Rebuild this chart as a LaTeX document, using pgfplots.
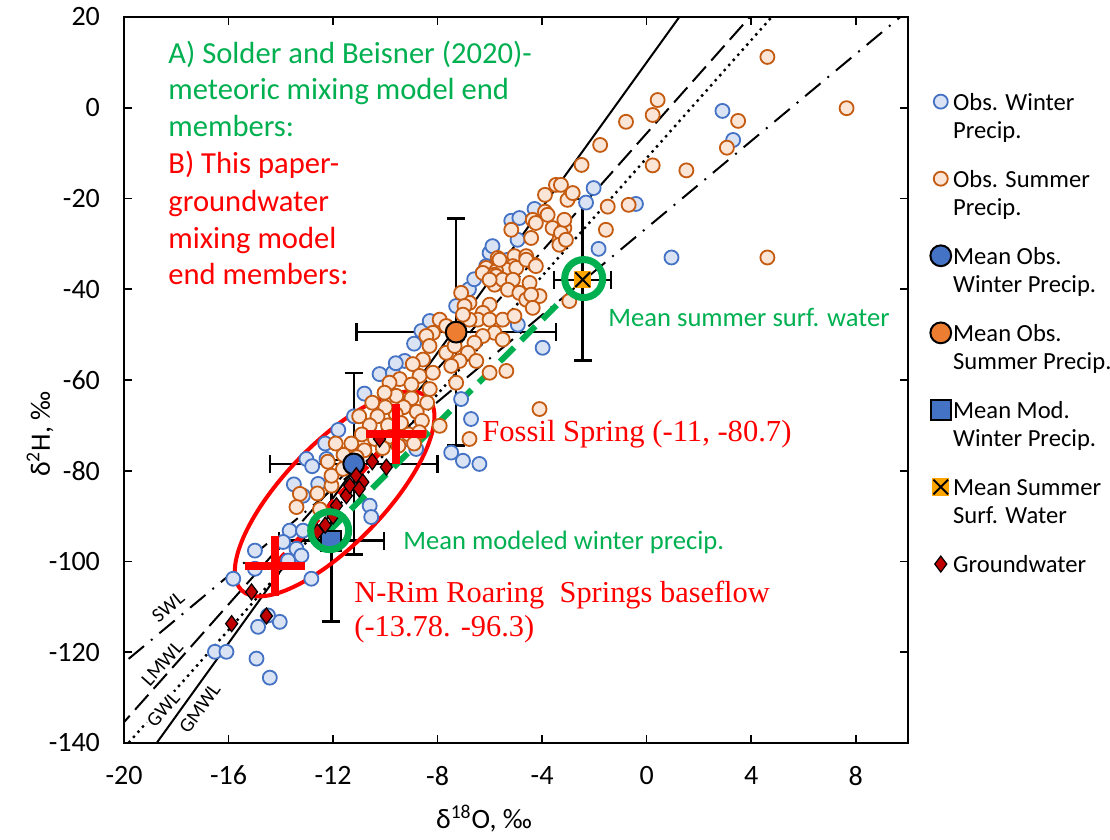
\documentclass[border=0pt]{standalone}
\usepackage{pgfplots}
\pgfplotsset{compat=1.18}
\usepackage{fontspec}
\setmainfont{Carlito}
\newfontfamily\serifred{Liberation Serif}
\definecolor{wedge}{HTML}{4472C4}
\definecolor{wfill}{HTML}{DAE3F3}
\definecolor{sedge}{HTML}{C55A11}
\definecolor{sfill}{HTML}{FBE5D6}
\definecolor{mblue}{HTML}{4472C4}
\definecolor{morange}{HTML}{ED7D31}
\definecolor{swor}{HTML}{FFA500}
\definecolor{gwred}{HTML}{C00000}
\definecolor{mygreen}{HTML}{00B050}
\definecolor{myred}{HTML}{FF0000}
\pgfdeclareplotmark{sqx}{%
  \pgfpathrectangle{\pgfpoint{-\pgfplotmarksize}{-\pgfplotmarksize}}{\pgfpoint{2\pgfplotmarksize}{2\pgfplotmarksize}}%
  \pgfusepathqfill
  \pgfpathmoveto{\pgfpoint{-0.85\pgfplotmarksize}{-0.85\pgfplotmarksize}}%
  \pgfpathlineto{\pgfpoint{0.85\pgfplotmarksize}{0.85\pgfplotmarksize}}%
  \pgfpathmoveto{\pgfpoint{-0.85\pgfplotmarksize}{0.85\pgfplotmarksize}}%
  \pgfpathlineto{\pgfpoint{0.85\pgfplotmarksize}{-0.85\pgfplotmarksize}}%
  \pgfusepathqstroke
}
\pgfplotsset{
  legshift/.style={legend image code/.code={\draw[##1, yshift=7.1pt] plot coordinates {(0pt,0pt)};}},
  legnoshift/.style={legend image code/.code={\draw[##1] plot coordinates {(0pt,0pt)};}},
}
\begin{document}
\begin{tikzpicture}
\useasboundingbox (-62pt,-48.5pt) rectangle (493pt,371.5pt);
\begin{axis}[
  scale only axis, width=392pt, height=363pt,
  xmin=-20, xmax=10, ymin=-140, ymax=20,
  xtick={-20,-16,...,8}, ytick={-140,-120,...,20},
  tick align=inside, major tick length=4pt,
  axis line style={line width=0.8pt},
  tick style={line width=0.8pt, black},
  every tick label/.append style={font=\fontsize{14}{16}\selectfont},
  /pgf/number format/assume math mode=true,
  xticklabel style={yshift=-8pt}, yticklabel style={xshift=-8.5pt},
  clip=true,
  legend style={at={(1.0204,0.9080)}, anchor=north west, draw=none, fill=none,
    font=\fontsize{12.3}{14.2}\selectfont, row sep=10.9pt, column sep=0pt,
    nodes={inner sep=1pt}, cells={align=left}},
  legend cell align=left,
  legshift,
  error bars/error bar style={black, line width=1.2pt},
  error bars/error mark options={rotate=90, black, line width=1.2pt, mark size=4.5pt},
]
% reference lines
\addplot[black, line width=1pt, forget plot] coordinates {(-20,-150) (2,26)};
\addplot[black, line width=1.7pt, dash pattern=on 0pt off 3.4pt, line cap=round, forget plot] coordinates {(-21,-147.6) (6,27.9)};
\addplot[black, line width=1pt, dash pattern=on 10pt off 4pt, forget plot] coordinates {(-21,-141.9) (6,33.3)};
\addplot[black, line width=1pt, dash pattern=on 10pt off 4.5pt on 1pt off 4.5pt, forget plot] coordinates {(-21,-127.1) (11,26.2)};

% Obs winter
\addplot[only marks, mark=*, mark size=3.5pt, mark options={draw=wedge, fill=wfill, line width=0.9pt}] coordinates {
(2.9,-0.7) (3.31,-7.1) (-2.03,-17.7) (-2.32,-20.9) (-0.41,-21.2) (-4.29,-22.3)
(-5.18,-24.9) (-4.87,-24.3) (-1.84,-31.1) (0.95,-33.0) (-6.01,-32.0) (-4.94,-29.1)
(-6.14,-34.9) (-6.27,-36.4) (-5.31,-33.5) (-8.62,-49.2) (-7.29,-43.7) (-4.93,-47.8) (-3.98,-52.9)
(-9.26,-55.8) (-9.71,-59.1) (-7.1,-64.2) (-6.72,-68.6) (-7.48,-76.0) (-10.22,-58.7)
(-9.71,-58.4) (-7.03,-77.8) (-6.4,-78.5) (-8.82,-75.2) (-9.2,-73) (-10.6,-87.7)
(-10.54,-90.2) (-12.57,-82.9) (-12.25,-77.4) (-13.02,-77.4) (-13.15,-85.5) (-13.66,-93.2)
(-13.15,-93.2) (-13.91,-95.7) (-13.4,-97.2) (-13.72,-99.8) (-13.21,-98.7) (-12.83,-103.8)
(-15.82,-103.8) (-14.99,-101.6) (-14.04,-113.3) (-14.49,-111.9) (-16.52,-119.9) (-16.08,-119.9)
(-14.87,-114.4) (-14.93,-121.4) (-14.42,-125.6) (-14.99,-97.6)
(-9.6,-56.3) (-10.8,-63) (-11.2,-68) (-11.8,-71) (-12.3,-74) (-12.8,-79) (-13.5,-83)
(-8.9,-52) (-8.3,-47) (-6.8,-40) (-6.6,-37.8) (-5.9,-30.5)
};
\addlegendentry{\strut Obs. Winter\\\strut Precip.}

% Obs summer
\addplot[only marks, mark=*, mark size=3.5pt, mark options={draw=sedge, fill=sfill, line width=0.9pt}] coordinates {
(4.62,11.2) (7.65,-0.1) (0.42,1.7) (0.23,-1.6) (-0.79,-3.1) (3.5,-2.9) (-1.78,-8.2) (3.07,-8.8)
(-2.49,-12.6) (0.23,-12.7) (1.52,-13.8) (-3.47,-17) (-3.28,-17) (-2.9,-19.2) (-3.89,-19.2)
(-3.03,-20.3) (-1.49,-21.8) (-0.69,-21.4) (-3.89,-22.9) (-3.79,-23.6) (-1.56,-26.9) (-5.18,-26.9)
(-4.36,-24.7) (-3.6,-26.5) (-3.15,-26.5) (-3.34,-29.1) (-3.28,-27.6) (-3.34,-30.2) (-4.42,-28.7)
(4.62,-33.0) (-5.06,-32.7) (-4.61,-32.7) (-5.7,-33.1) (-4.29,-34.6) (-5.12,-34.9) (-5.37,-35.7)
(-6.14,-35.3) (-5.76,-36.0) (-6.27,-36.4) (-5.82,-36.8)
(-2.83,-18.8) (-3.15,-24.7) (-4.24,-25.4) (-3.09,-29.1) (-5.63,-33.5) (-4.99,-35.3) (-4.61,-33.5)
(-4.24,-34.9) (-5.76,-37.1) (-5.82,-39.0) (-5.51,-37.9) (-6.01,-37.9) (-5.12,-37.9) (-5.31,-40.1)
(-4.48,-38.6) (-4.87,-40.8) (-4.61,-42.3) (-4.1,-41.5) (-4.42,-41.2) (-2.96,-42.6) (-4.36,-44.1)
(-6.01,-43.4) (-6.27,-45.2) (-6.46,-46.7) (-6.01,-46.7) (-6.78,-43.0) (-7.1,-40.8) (-6.97,-43.7)
(-6.78,-46.7) (-7.03,-45.6) (-5.51,-46.7) (-5.06,-45.9) (-5.82,-49.6) (-5.51,-51.1) (-6.27,-50.3)
(-6.59,-51.8) (-7.92,-46.7) (-7.67,-48.1) (-8.18,-49.6) (-8.43,-50.3) (-7.67,-54.0) (-7.35,-52.5)
(-6.84,-54.0) (-7.16,-55.8) (-6.52,-55.8) (-8.56,-55.5) (-8.95,-56.5) (-8.31,-52.5) (-8.69,-59.1)
(-8.18,-58.4) (-7.48,-56.9) (-6.01,-58.4) (-7.29,-60.6) (-5.37,-58.0) (-4.1,-66.4) (-6.78,-73.0)
(-7.92,-70.1) (-9.45,-59.8) (-9.84,-60.6) (-9.58,-63.5) (-10.03,-62.8)
(-9.0,-64) (-9.3,-66) (-8.8,-67) (-9.6,-67.5) (-10.0,-66) (-10.3,-68) (-9.9,-70) (-9.4,-69.5)
(-8.6,-69) (-10.6,-70) (-10.9,-72) (-10.4,-73) (-9.8,-72.5) (-9.1,-72) (-8.7,-71.5) (-10.1,-75)
(-10.8,-75.5) (-11.3,-74) (-11.1,-77) (-11.6,-76.5) (-9.5,-74.5) (-8.9,-74) (-10.5,-65) (-11.0,-68)
(-11.9,-74) (-12.2,-78) (-12.06,-83.3) (-12.06,-81.1) (-11.62,-79.6) (-13.27,-85.1) (-12.6,-85)
(-13.4,-88) (-12.5,-88.5) (-8.3,-62) (-9.0,-61) (-8.4,-65)
};
\addlegendentry{\strut Obs. Summer\\\strut Precip.}

% Mean obs winter
\addplot[only marks, mark=*, mark size=5.2pt, mark options={draw=black, fill=mblue, line width=1pt},
  error bars/.cd, x dir=both, x explicit, y dir=both, y explicit]
  coordinates {(-11.21,-78.5) +- (3.2,20)};
\addlegendentry{\strut Mean Obs.\\\strut Winter Precip.}

% Mean obs summer
\addplot[only marks, mark=*, mark size=5.2pt, mark options={draw=black, fill=morange, line width=1pt},
  error bars/.cd, x dir=both, x explicit, y dir=both, y explicit]
  coordinates {(-7.29,-49.45) +- (3.82,25)};
\addlegendentry{\strut Mean Obs.\\\strut Summer Precip.}

% Mean modelled winter
\addplot[only marks, mark=square*, mark size=5pt, mark options={draw=black, fill=mblue, line width=1pt},
  error bars/.cd, x dir=both, x explicit, y dir=both, y explicit]
  coordinates {(-12.06,-95.4) +- (2.0,17.8)};
\addlegendentry{\strut Mean Mod.\\\strut Winter Precip.}

% Mean summer surface water
\addplot[only marks, mark=sqx, mark size=4.3pt, mark options={draw=black, fill=swor, line width=1pt},
  error bars/.cd, x dir=both, x explicit, y dir=both, y explicit]
  coordinates {(-2.45,-37.9) +- (1.09,17.8)};
\addlegendentry{\strut Mean Summer\\\strut Surf. Water}

% Groundwater
\addplot[only marks, mark=diamond*, mark size=4pt, mark options={draw=black, fill=gwred, line width=0.6pt}, legnoshift] coordinates {
(-15.12,-106.7) (-15.88,-113.7) (-14.55,-112.0) (-9.96,-79.2) (-10.22,-73) (-11.11,-81.1)
(-11.49,-85.5) (-11.87,-87.7) (-11.36,-83.3) (-10.86,-82.5) (-12.3,-92) (-12.6,-93.5)
(-11.0,-84) (-10.5,-78) (-12.0,-90)
};
\addlegendentry{\strut Groundwater}

% annotations
\draw[myred, line width=2pt, rotate around={46:(axis cs:-11.94,-85.1)}] (axis cs:-11.94,-85.1) ellipse [x radius=67pt, y radius=25pt];
\addplot[myred, line width=3pt, dash pattern=on 8pt off 4pt, forget plot] coordinates {(-14.23,-100.9) (-9.58,-71.9)};
\addplot[only marks, mark=+, mark size=15pt, mark options={myred, line width=4pt}, forget plot] coordinates {(-9.58,-71.9) (-14.23,-100.9)};
\addplot[mygreen, line width=3pt, dash pattern=on 10pt off 5pt, forget plot] coordinates {(-12.13,-93.2) (-3.3,-42.7)};
\addplot[only marks, mark=o, mark size=9.5pt, mark options={mygreen, line width=3.5pt}, forget plot] coordinates {(-2.41,-37.65) (-12.13,-93.2)};

% line labels
\node[rotate=39.8, font=\fontsize{10}{12}\selectfont, fill=white, inner sep=0.5pt] at (axis cs:-18.31,-110.0) {SWL};
\node[rotate=48.4, font=\fontsize{10}{12}\selectfont, fill=white, inner sep=0.5pt] at (axis cs:-18.54,-122.5) {LMWL};
\node[rotate=48.5, font=\fontsize{10}{12}\selectfont, fill=white, inner sep=0.5pt] at (axis cs:-18.5,-132.6) {GWL};
\node[rotate=54.3, font=\fontsize{10}{12}\selectfont, inner sep=0.5pt] at (axis cs:-17.1,-132.4) {GMWL};
\end{axis}
% axis labels
\node[anchor=base, font=\fontsize{14}{16}\selectfont] at (180pt,-43pt) {δ\textsuperscript{18}O, ‰};
\node[rotate=90, anchor=center, font=\fontsize{14}{16}\selectfont] at (-42pt,154.5pt) {δ\textsuperscript{2}H, ‰};
% text block
\begin{scope}[every node/.style={anchor=base west, font=\fontsize{15.3}{18}\selectfont, inner sep=0pt}]
\node[text=mygreen] at (22pt,339.9pt) {A) Solder and Beisner (2020)-};
\node[text=mygreen] at (22pt,321.5pt) {meteoric mixing model end};
\node[text=mygreen] at (22pt,303.2pt) {members:};
\node[text=myred] at (22pt,284.9pt) {B) This paper-};
\node[text=myred] at (22pt,265.7pt) {groundwater};
\node[text=myred] at (22pt,247.4pt) {mixing model};
\node[text=myred] at (22pt,229.0pt) {end members:};
\end{scope}
\node[anchor=base west, inner sep=0pt, text=myred, font=\serifred\fontsize{15.3}{17}\selectfont] at (179pt,150.5pt) {Fossil Spring (-11, -80.7)};
\node[anchor=base west, inner sep=0pt, text=mygreen, font=\fontsize{13.3}{15}\selectfont] at (242pt,208pt) {Mean summer surf. water};
\node[anchor=base west, inner sep=0pt, text=mygreen, font=\fontsize{13.3}{15}\selectfont] at (139.5pt,96.5pt) {Mean modeled winter precip.};
\node[anchor=base west, inner sep=0pt, text=myred, font=\serifred\fontsize{15.2}{17}\selectfont] at (115pt,70pt) {N-Rim Roaring\ \ Springs baseflow};
\node[anchor=base west, inner sep=0pt, text=myred, font=\serifred\fontsize{15.2}{17}\selectfont] at (115pt,53pt) {(-13.78. -96.3)};
\end{tikzpicture}
\end{document}
